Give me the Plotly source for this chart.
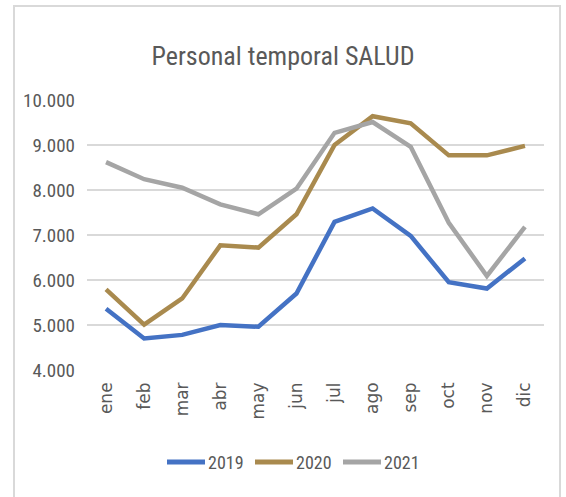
import plotly.graph_objects as go

months = ["ene", "feb", "mar", "abr", "may", "jun", "jul", "ago", "sep", "oct", "nov", "dic"]
s2019 = [5360, 4700, 4780, 5000, 4960, 5700, 7290, 7590, 6980, 5950, 5810, 6480]
s2020 = [5790, 5010, 5590, 6770, 6720, 7460, 9000, 9640, 9480, 8770, 8770, 8980]
s2021 = [8620, 8240, 8050, 7680, 7460, 8030, 9270, 9510, 8960, 7270, 6090, 7180]
names = ["2019", "2020", "2021"]
colors = ["#4472C4", "#A98A4E", "#A5A5A5"]
series = [s2019, s2020, s2021]

W, H = 566, 497
L, R, T, B = 87, 22, 100, 127
pw, ph = W - L - R, H - T - B

def px(x):
    return (x - L) / pw

def py(y):
    return (H - B - y) / ph

NARROW = "Liberation Sans Narrow, Arial Narrow, Roboto Condensed, sans-serif"
SANS = "DejaVu Sans, Verdana, sans-serif"
GREY = "#595959"

fig = go.Figure()
for name, vals, col in zip(names, series, colors):
    fig.add_trace(go.Scatter(x=months, y=vals, name=name, mode="lines",
                             line=dict(color=col, width=4.5), showlegend=False,
                             hoverinfo="skip"))

fig.update_layout(
    width=W, height=H,
    margin=dict(l=L, r=R, t=T, b=B),
    paper_bgcolor="white", plot_bgcolor="white",
    separators=",.",
    font=dict(family=NARROW, color=GREY, size=18),
    title=dict(text="Personal temporal SALUD", x=0.5, xref="container",
               y=1 - 56 / H, yref="container", xanchor="center", yanchor="middle",
               font=dict(family=NARROW, size=26, color=GREY)),
    xaxis=dict(type="category", range=[-0.5, 11.5], tickangle=-90, showgrid=False,
               showline=False, ticks="", zeroline=False, ticklabelstandoff=8,
               tickfont=dict(family=SANS, size=17, color=GREY)),
    yaxis=dict(range=[4000, 10000], dtick=1000, tickformat=",d", showgrid=True,
               gridcolor="#D9D9D9", gridwidth=2, zeroline=False, showline=False, ticks="",
               ticklabelstandoff=11, tickfont=dict(family=NARROW, size=19, color=GREY)),
    showlegend=False,
)

# chart frame
fig.add_shape(type="rect", xref="paper", yref="paper",
              x0=px(14), x1=px(560), y0=py(560), y1=py(6),
              line=dict(color="#D9D9D9", width=2), fillcolor="rgba(0,0,0,0)", layer="below")

# legend
leg_x = [167, 255, 343]
leg_y = 462
for name, col, x0 in zip(names, colors, leg_x):
    fig.add_shape(type="line", xref="paper", yref="paper",
                  x0=px(x0), x1=px(x0 + 38), y0=py(leg_y), y1=py(leg_y),
                  line=dict(color=col, width=5))
    fig.add_annotation(text=name, xref="paper", yref="paper", x=px(x0 + 39), y=py(leg_y),
                       xanchor="left", yanchor="middle", showarrow=False,
                       font=dict(family=NARROW, size=18, color=GREY))

fig.write_html("out.html", config={"displayModeBar": False},
               post_script="document.body.style.margin='0px';")
